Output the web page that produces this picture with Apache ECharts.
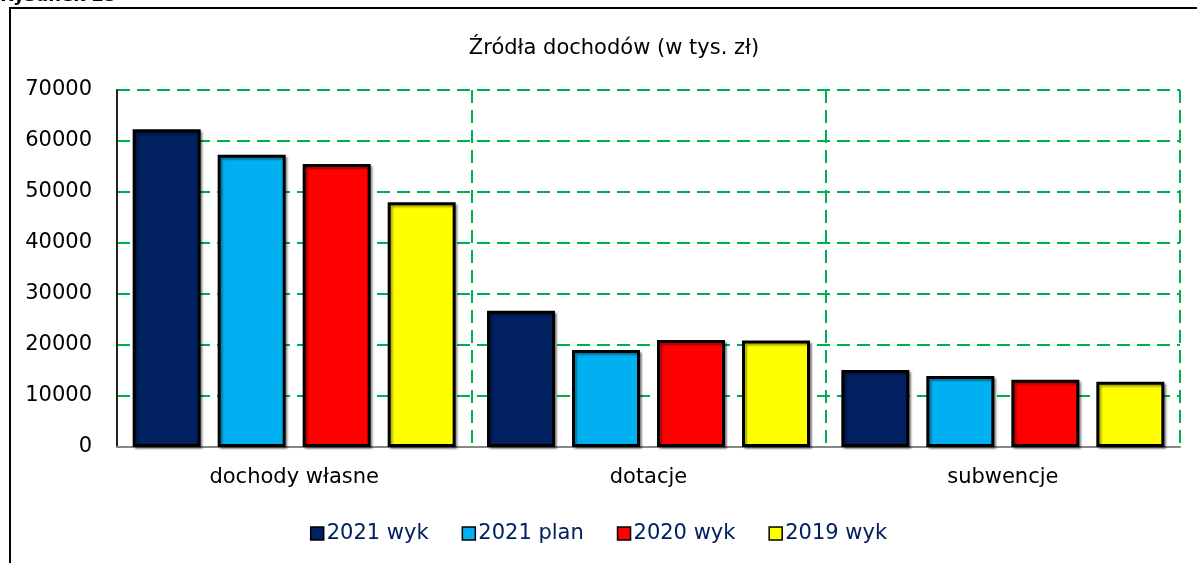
<!DOCTYPE html>
<html>
<head>
<meta charset="utf-8">
<script src="https://cdn.jsdelivr.net/npm/echarts@6/dist/echarts.min.js"></script>
<style>
  html, body { margin: 0; padding: 0; background: #fff; }
  #chart { width: 1197px; height: 563px; }
</style>
</head>
<body>
<div id="chart"></div>
<script>
// dane
const categories = ['dochody własne', 'dotacje', 'subwencje']
const seriesNames = ['2021 wyk', '2021 plan', '2020 wyk', '2019 wyk']
const wyk2021 = [62300, 26700, 15100]
const plan2021 = [57300, 19000, 13900]
const wyk2020 = [55500, 21000, 13200]
const wyk2019 = [48000, 20900, 12800]
const yTicks = [0, 10000, 20000, 30000, 40000, 50000, 60000, 70000]

const colors = ['#002060', '#00B0F0', '#FF0000', '#FFFF00']
const values = [wyk2021, plan2021, wyk2020, wyk2019]

const chart = echarts.init(document.getElementById('chart'))

const font = 'DejaVu Sans'
const gridLine = { color: '#00B050', width: 2, type: [13, 7] }

const option = {
  animation: false,
  color: colors,
  title: {
    text: 'Źródła dochodów (w tys. zł)',
    left: 609,
    textAlign: 'center',
    top: 33,
    textStyle: { fontFamily: font, fontSize: 21, fontWeight: 'normal', color: '#000' }
  },
  graphic: [
    {
      type: 'rect',
      shape: { x: 10, y: 8, width: 1200, height: 600 },
      style: { fill: 'none', stroke: '#000', lineWidth: 2 }
    },
    {
      type: 'text',
      left: 0,
      top: -13,
      style: { text: 'Rysunek 23', font: 'bold 18px ' + font, fill: '#000' }
    }
  ],
  legend: {
    data: seriesNames,
    left: 'center',
    top: 518,
    itemWidth: 13,
    itemHeight: 13,
    itemGap: 33,
    icon: 'rect',
    textStyle: { fontFamily: font, fontSize: 21, color: '#002060', padding: [0, 0, 0, -2] },
    itemStyle: { borderColor: '#000', borderWidth: 1.5 }
  },
  grid: { left: 117, right: 17, top: 90, bottom: 116 },
  xAxis: {
    type: 'category',
    data: categories,
    axisLine: { lineStyle: { color: '#888', width: 2 } },
    axisTick: { show: false },
    axisLabel: { fontFamily: font, fontSize: 21, color: '#000', margin: 20 },
    splitLine: { show: true, interval: 0, lineStyle: gridLine }
  },
  yAxis: {
    type: 'value',
    min: yTicks[0],
    max: yTicks[yTicks.length - 1],
    interval: 10000,
    axisLine: { show: true, lineStyle: { color: '#222', width: 2 } },
    axisTick: { show: false },
    axisLabel: {
      fontFamily: font,
      fontSize: 21,
      color: '#000',
      margin: 25,
      formatter: (v) => String(v)
    },
    splitLine: { lineStyle: gridLine }
  },
  series: seriesNames.map((name, i) => ({
    name: name,
    type: 'bar',
    data: values[i],
    barWidth: 68,
    barGap: '25%',
    itemStyle: {
      color: colors[i],
      borderColor: '#000',
      borderWidth: 3,
      shadowColor: 'rgba(0,0,0,0.35)',
      shadowOffsetX: 2,
      shadowOffsetY: 2,
      shadowBlur: 2
    }
  }))
}

chart.setOption(option)
</script>
</body>
</html>
